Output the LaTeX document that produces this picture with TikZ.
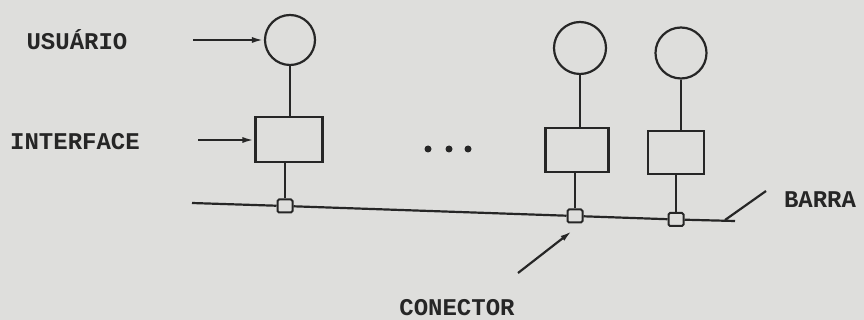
\documentclass[tikz,border=0pt]{standalone}
\usepackage{fontspec}
\usetikzlibrary{arrows.meta}
\newfontfamily\typew{Liberation Mono}
\definecolor{paper}{RGB}{222,222,220}
\definecolor{ink}{RGB}{38,38,38}
\tikzset{
  wire/.style={draw=ink, line width=2.2pt},
  station/.style={circle, draw=ink, line width=2.2pt, fill=paper, inner sep=0pt},
  iface/.style={rectangle, draw=ink, line width=2.2pt, fill=paper, inner sep=0pt},
  plug/.style={rectangle, draw=ink, line width=2pt, fill=paper, inner sep=0pt,
               minimum width=15pt, minimum height=13pt, rounded corners=1.5pt},
  label/.style={font=\typew\bfseries\fontsize{24}{24}\selectfont, text=ink, inner sep=0pt},
  pointer/.style={wire, -{Latex[length=12pt,width=6pt]}},
  dot/.style={circle, fill=ink, inner sep=0pt, minimum size=7pt}
}
\begin{document}
\begin{tikzpicture}[x=1pt,y=-1pt]
  \fill[paper] (0,0) rectangle (864,320);
  \useasboundingbox (0,0) rectangle (864,320);

  % the shared bus
  \coordinate (busL) at (192,203);
  \coordinate (busR) at (735,221);
  \node[plug] (k1) at (285,206) {};
  \node[plug] (k2) at (575,216) {};
  \node[plug] (k3) at (676,219.5) {};
  \draw[wire] (busL) -- (k1) -- (k2) -- (k3) -- (busR);

  % user stations
  \node[station, minimum size=50pt] (c1) at (290,40) {};
  \node[station, minimum size=52pt] (c2) at (580,48) {};
  \node[station, minimum size=51pt] (c3) at (681,53) {};

  % interfaces
  \node[iface, minimum width=67pt, minimum height=45pt] (b1) at (289,139.5) {};
  \node[iface, minimum width=63pt, minimum height=44pt] (b2) at (577,150) {};
  \node[iface, minimum width=56pt, minimum height=43pt] (b3) at (676,152.5) {};

  % station to interface, interface to bus
  \draw[wire] (c1.south) -- (c1.south |- b1.north);
  \draw[wire] (c2.south) -- (c2.south |- b2.north);
  \draw[wire] (c3.south) -- (c3.south |- b3.north);
  \draw[wire] (k1.north) -- (k1.north |- b1.south);
  \draw[wire] (k2.north) -- (k2.north |- b2.south);
  \draw[wire] (k3.north) -- (k3.north |- b3.south);

  % labels
  \node[label] (usr) at (77,40) {USUÁRIO};
  \node[label] (itf) at (75,142) {INTERFACE};
  \node[label] (bar) at (820,200) {BARRA};
  \node[label] (con) at (457,308) {CONECTOR};

  % input arrows
  \coordinate (inU) at (193,40);
  \coordinate (inI) at (198,140);
  \draw[pointer] (inU) -- (c1.west);
  \draw[pointer] (inI) -- (inI -| b1.west);

  % leader lines
  \coordinate (barFoot) at (725,220);
  \coordinate (barTop) at (766,191);
  \draw[wire] (barFoot) -- (barTop);
  \coordinate (conTail) at (518,273);
  \coordinate (conTip) at (572,231);
  \draw[pointer] (conTail) -- (conTip);

  % ellipsis between stations
  \node[dot] (d1) at (428,149) {};
  \node[dot] (d2) at (449,149) {};
  \node[dot] (d3) at (468,149) {};
\end{tikzpicture}
\end{document}
